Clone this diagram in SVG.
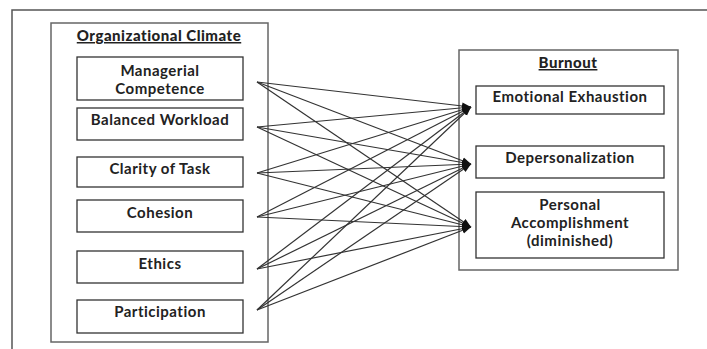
<svg xmlns="http://www.w3.org/2000/svg" width="707" height="349" viewBox="0 0 707 349">
<style>
.frame{fill:none;stroke:#555;stroke-width:1.5}
.box{fill:#fff;stroke:#333;stroke-width:1.3}
.cont{fill:none;stroke:#666;stroke-width:1.5}
text{font-family:Lato,"Open Sans","Liberation Sans",sans-serif;font-size:15px;font-weight:700;letter-spacing:0.5px;fill:#222;text-anchor:middle}
.title{font-weight:900;text-decoration:underline}
.conn{stroke:#333;stroke-width:1.2;fill:none;marker-end:url(#ah)}
</style>
<defs>
<marker id="ah" markerUnits="userSpaceOnUse" markerWidth="12" markerHeight="12" refX="9" refY="5" orient="auto">
<path d="M0,1.5 L9,5 L0,8.5 Z" fill="#111"/>
</marker>
</defs>
<rect width="707" height="349" fill="#fff"/>
<path class="frame" d="M12,349 V10 H707"/>
<g id="organizational-climate">
<rect class="cont" x="51" y="23" width="217" height="319"/>
<text class="title" x="159" y="41">Organizational Climate</text>
</g>
<g id="managerial-competence">
<rect class="box" x="77" y="57" width="166" height="43"/>
<text x="160" y="76">Managerial</text>
<text x="160" y="94">Competence</text>
</g>
<g id="balanced-workload">
<rect class="box" x="77" y="108" width="166" height="32"/>
<text x="160" y="125">Balanced Workload</text>
</g>
<g id="clarity-of-task">
<rect class="box" x="77" y="157" width="166" height="30"/>
<text x="160" y="174">Clarity of Task</text>
</g>
<g id="cohesion">
<rect class="box" x="77" y="200" width="166" height="32"/>
<text x="160" y="218">Cohesion</text>
</g>
<g id="ethics">
<rect class="box" x="77" y="251" width="166" height="32"/>
<text x="160" y="269">Ethics</text>
</g>
<g id="participation">
<rect class="box" x="77" y="300" width="166" height="33"/>
<text x="160" y="317">Participation</text>
</g>
<g id="burnout">
<rect class="cont" x="459" y="50" width="219" height="220"/>
<text class="title" x="568" y="68">Burnout</text>
</g>
<g id="emotional-exhaustion">
<rect class="box" x="476" y="86" width="188" height="28"/>
<text x="570" y="102">Emotional Exhaustion</text>
</g>
<g id="depersonalization">
<rect class="box" x="476" y="146" width="188" height="32"/>
<text x="570" y="163">Depersonalization</text>
</g>
<g id="personal-accomplishment">
<rect class="box" x="476" y="192" width="188" height="66"/>
<text x="570" y="210">Personal</text>
<text x="570" y="228">Accomplishment</text>
<text x="570" y="246">(diminished)</text>
</g>
<g id="connectors">
<line class="conn" x1="257" y1="82" x2="471" y2="107"/>
<line class="conn" x1="257" y1="82" x2="471" y2="164"/>
<line class="conn" x1="257" y1="82" x2="471" y2="227"/>
<line class="conn" x1="257" y1="127" x2="471" y2="107"/>
<line class="conn" x1="257" y1="127" x2="471" y2="164"/>
<line class="conn" x1="257" y1="127" x2="471" y2="227"/>
<line class="conn" x1="257" y1="173" x2="471" y2="107"/>
<line class="conn" x1="257" y1="173" x2="471" y2="164"/>
<line class="conn" x1="257" y1="173" x2="471" y2="227"/>
<line class="conn" x1="257" y1="217" x2="471" y2="107"/>
<line class="conn" x1="257" y1="217" x2="471" y2="164"/>
<line class="conn" x1="257" y1="217" x2="471" y2="227"/>
<line class="conn" x1="257" y1="269" x2="471" y2="107"/>
<line class="conn" x1="257" y1="269" x2="471" y2="164"/>
<line class="conn" x1="257" y1="269" x2="471" y2="227"/>
<line class="conn" x1="257" y1="310" x2="471" y2="107"/>
<line class="conn" x1="257" y1="310" x2="471" y2="164"/>
<line class="conn" x1="257" y1="310" x2="471" y2="227"/>
</g>
</svg>
